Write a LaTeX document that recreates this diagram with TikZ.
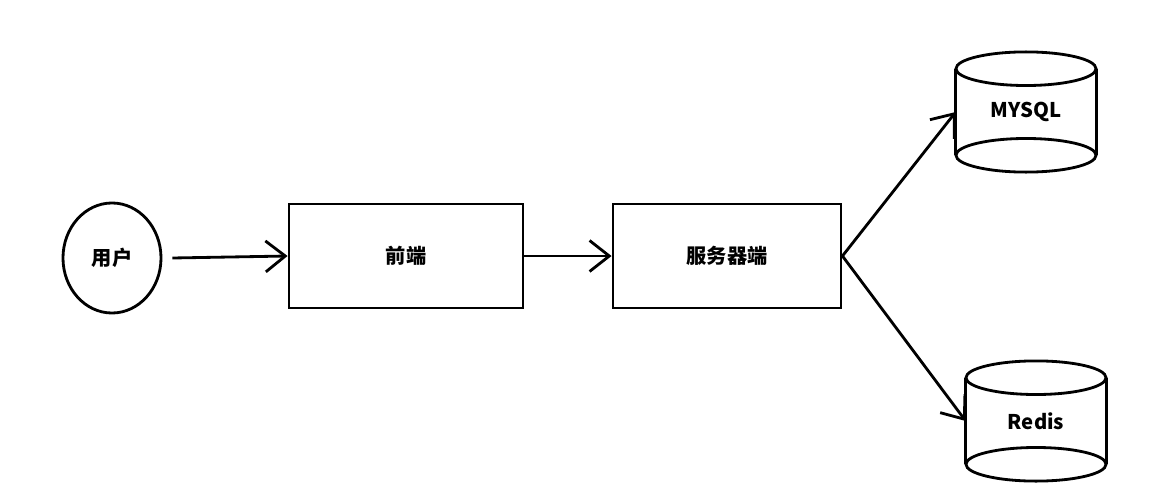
\documentclass[tikz,border=0pt]{standalone}
\usepackage{fontspec}
\setmainfont{Noto Sans CJK SC}
\usetikzlibrary{shapes.geometric,arrows.meta}

\begin{document}
\begin{tikzpicture}[x=0.025cm,y=-0.025cm,
    every node/.style={font=\bfseries\Large},
    box/.style={draw,line width=2pt,minimum width=5.85cm,minimum height=2.6cm},
    db/.style={minimum width=3.5cm,minimum height=2.15cm},
    link/.style={line width=2pt,-{Straight Barb[length=14pt,width=22pt,line width=2pt]}}
  ]
  \useasboundingbox (0,0) rectangle (1160,500);
  %nodes
  \node[draw,line width=2pt,ellipse,minimum width=2.45cm,minimum height=2.75cm] (user) at (112,258) {用户};
  \node[box] (front) at (406,256) {前端};
  \node[box,minimum width=5.7cm] (server) at (727,256) {服务器端};
  \node[db] (mysql) at (1026,112) {MYSQL};
  \node[db] (redis) at (1036,421) {Redis};
  %cylinders
  \foreach \c in {mysql,redis}{
    \draw[line width=2pt] (\c.north west) -- (\c.south west)
      (\c.north east) -- (\c.south east);
    \draw[line width=2pt,fill=white] (\c.north) ellipse [x radius=1.75cm,y radius=0.42cm];
    \draw[line width=2pt] (\c.south) ellipse [x radius=1.75cm,y radius=0.42cm];
  }
  %links
  \draw[link] (user.east)+(10,0) -- (front.west);
  \draw[link] (front.east) -- (server.west);
  \draw[link] (server.east) -- (mysql.west);
  \draw[link] (server.east) -- (redis.west);
\end{tikzpicture}
\end{document}
